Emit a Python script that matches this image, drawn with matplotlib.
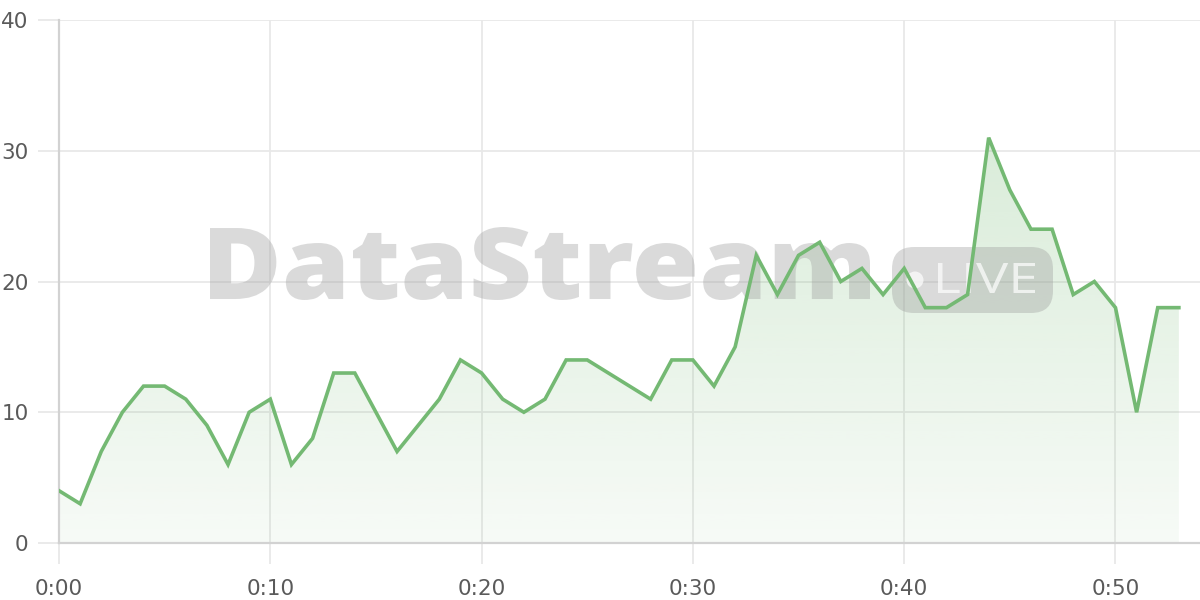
import numpy as np
import matplotlib
matplotlib.use("Agg")
import matplotlib.pyplot as plt
from matplotlib.textpath import TextPath
from matplotlib.font_manager import FontProperties
from matplotlib.patches import PathPatch, FancyBboxPatch, Circle
from matplotlib.transforms import Affine2D

# ---- data ----
minutes = list(range(0, 54))
values = [4, 3, 7, 10, 12, 12, 11, 9, 6, 10,
          11, 6, 8, 13, 13, 10, 7, 9, 11, 14,
          13, 11, 10, 11, 14, 14, 13, 12, 11, 14,
          14, 12, 15, 22, 19, 22, 23, 20, 21, 19,
          21, 18, 18, 19, 31, 27, 24, 24, 19, 20,
          18, 10, 18, 18]
xticks = [0, 10, 20, 30, 40, 50]
xtick_labels = ["0:00", "0:10", "0:20", "0:30", "0:40", "0:50"]
yticks = [0, 10, 20, 30, 40]

W, H = 1200, 600
fig = plt.figure(figsize=(12, 6), dpi=100)
ax = fig.add_axes([59 / W, 1 - 543 / H, (W - 59) / W, (543 - 20) / H])

LINE = "#74b973"
GRID = "#e8e8e8"

x = np.array(minutes, dtype=float)
y = np.array(values, dtype=float)

# gradient fill under the line
poly = ax.fill_between(x, y, 0, facecolor="none", edgecolor="none")
n = 256
img = np.zeros((n, 1, 4))
img[:, 0, 0] = 116 / 255
img[:, 0, 1] = 185 / 255
img[:, 0, 2] = 115 / 255
img[:, 0, 3] = np.linspace(0.06, 0.27, n)
im = ax.imshow(img, extent=[x.min(), x.max(), 0, y.max()], origin="lower",
               aspect="auto", zorder=1.2, interpolation="bilinear")
im.set_clip_path(poly.get_paths()[0], transform=ax.transData)

ax.plot(x, y, color=LINE, lw=2.6, solid_joinstyle="miter", zorder=3)

ax.set_xlim(0, 54)
ax.set_ylim(0, 40)
ax.set_xticks(xticks)
ax.set_xticklabels(xtick_labels)
ax.set_yticks(yticks)
ax.grid(True, color=GRID, lw=1.3)
ax.set_axisbelow(True)
for s in ["top", "right"]:
    ax.spines[s].set_visible(False)
for s in ["left", "bottom"]:
    ax.spines[s].set_color("#d2d2d2")
    ax.spines[s].set_linewidth(1.6)
ax.tick_params(axis="both", length=15, width=1.3, color=GRID,
               labelcolor="#5a5a5a", labelsize=15.5, pad=7)
for lab in ax.get_xticklabels() + ax.get_yticklabels():
    lab.set_family(["DejaVu Sans"])
ax.tick_params(axis="x", pad=11)

# ---- watermark ----
px = Affine2D().scale(1 / W, 1 / H) + fig.transFigure


def fitted_path(text, prop, x0, x1, y0, y1):
    tp = TextPath((0, 0), text, size=100, prop=prop)
    bb = tp.get_extents()
    t = (Affine2D().translate(-bb.x0, -bb.y0)
         .scale((x1 - x0) / bb.width, (y1 - y0) / bb.height)
         .translate(x0, y0))
    return t.transform_path(tp)


wm = fitted_path("DataStream", FontProperties(family="Open Sans", weight=800),
                 210, 870, H - 300, H - 227)
ax.add_patch(PathPatch(wm, transform=px, facecolor="#9a9a9a", edgecolor="none",
                       alpha=0.36, zorder=1.5, clip_on=False))

badge = FancyBboxPatch((892, H - 313), 161, 66,
                       boxstyle="round,pad=0,rounding_size=22",
                       transform=px, facecolor="#9a9a9a", edgecolor="none",
                       alpha=0.36, zorder=1.5, clip_on=False)
ax.add_patch(badge)
ax.add_patch(Circle((915, H - 280), 8.5, transform=px, facecolor="white",
                    edgecolor="none", alpha=0.7, zorder=1.6, clip_on=False))
live = fitted_path("LIVE", FontProperties(family="Open Sans", weight="normal"),
                   938, 1035, H - 293, H - 263)
ax.add_patch(PathPatch(live, transform=px, facecolor="white", edgecolor="none",
                       alpha=0.7, zorder=1.6, clip_on=False))

fig.savefig("out.png", dpi=100)
